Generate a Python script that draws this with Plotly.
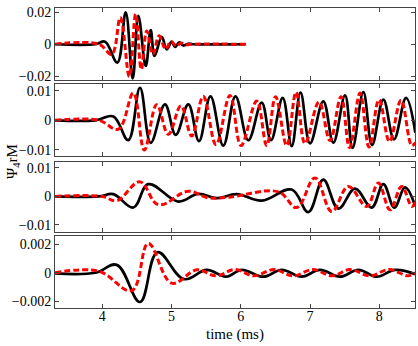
import plotly.graph_objects as go
from plotly.subplots import make_subplots

# panel 1 (top)
p1_black_t = [3.32, 3.90, 4.04, 4.217, 4.338, 4.439, 4.520, 4.627, 4.699, 4.754, 4.858, 4.930,
              5.002, 5.050, 5.112, 5.170, 5.240, 5.310, 6.07]
p1_black_v = [0, 0, 0.0016, -0.0116, 0.0200, -0.0215, 0.0179, -0.0137, 0.0089, -0.0074, 0.0046, -0.0032,
              0.0017, -0.0017, 0.0012, -0.0008, 0.0003, 0, 0]
p1_red_t = [3.32, 3.95, 4.136, 4.260, 4.390, 4.482, 4.563, 4.641, 4.732, 4.819, 4.916, 4.990,
            5.074, 5.136, 5.210, 5.300, 6.07]
p1_red_v = [0, 0, -0.0063, 0.0168, -0.0204, 0.0190, -0.0158, 0.0084, -0.0063, 0.0053, -0.0032, 0.0018,
            -0.0013, 0.0008, -0.0003, 0, 0]

# panel 2
p2_black_t = [3.32, 3.90, 4.159, 4.375, 4.544, 4.699, 4.905, 5.060, 5.242, 5.396, 5.562, 5.747,
              5.923, 6.108, 6.302, 6.436, 6.605, 6.735, 6.862, 6.999, 7.191, 7.336, 7.505, 7.613,
              7.769, 7.895, 8.058, 8.212, 8.386, 8.52]
p2_black_v = [0, 0, 0.0013, -0.0067, 0.0110, -0.0076, 0.0054, -0.0049, 0.0054, -0.0070, 0.0081, -0.0085,
              0.0081, -0.0067, 0.0060, -0.0067, 0.0076, -0.0087, 0.0094, -0.0078, 0.0064, -0.0075, 0.0084, -0.0093,
              0.0095, -0.0083, 0.0070, -0.0064, 0.0076, -0.0042]
p2_red_t = [3.32, 3.95, 4.231, 4.448, 4.606, 4.786, 4.953, 5.136, 5.291, 5.458, 5.642, 5.844,
            6.003, 6.230, 6.374, 6.501, 6.663, 6.797, 6.927, 7.129, 7.288, 7.447, 7.570, 7.721,
            7.851, 7.996, 8.147, 8.313, 8.468, 8.52]
p2_red_v = [0, 0, -0.0030, 0.0092, -0.0100, 0.0053, -0.0047, 0.0049, -0.0053, 0.0081, -0.0082, 0.0084,
            -0.0085, 0.0065, -0.0085, 0.0080, -0.0085, 0.0095, -0.0078, 0.0062, -0.0068, 0.0080, -0.0092, 0.0092,
            -0.0090, 0.0070, -0.0072, 0.0068, -0.0085, -0.0075]

# panel 3
p3_black_t = [3.32, 3.95, 4.159, 4.448, 4.664, 5.097, 5.386, 5.652, 5.941, 6.302, 6.735, 6.975,
              7.191, 7.408, 7.649, 7.890, 8.058, 8.217, 8.371, 8.52]
p3_black_v = [0, 0, 0.0008, -0.0039, 0.0043, -0.0018, 0.0009, -0.0006, 0.0008, -0.0015, 0.0024, -0.0055,
              0.0059, -0.0043, 0.0027, -0.0039, 0.0043, -0.0039, 0.0032, -0.0035]
p3_red_t = [3.32, 4.0, 4.208, 4.544, 4.809, 5.242, 5.531, 5.820, 6.541, 6.807, 7.071, 7.313,
            7.552, 7.818, 7.986, 8.155, 8.323, 8.468, 8.52]
p3_red_v = [0, 0, -0.0015, 0.0051, -0.0029, 0.0018, -0.0005, -0.0003, 0.0016, -0.0039, 0.0065, -0.0053,
            0.0035, -0.0035, 0.0047, -0.0047, 0.0035, -0.0035, -0.0020]

# panel 4 (bottom)
p4_black_t = [3.32, 3.90, 4.208, 4.544, 4.797, 5.180, 5.508, 5.786, 6.013, 6.325, 6.591, 6.879,
              7.144, 7.432, 7.697, 7.962, 8.227, 8.52]
p4_black_v = [-0.00005, 0, 0.00055, -0.00205, 0.00143, -0.00045, 0.0002, -0.00028, 0.0002, -0.00028, 0.0002, -0.00028,
              0.0002, -0.00028, 0.0002, -0.00028, 0.0002, -0.0001]
p4_red_t = [3.32, 3.95, 4.425, 4.664, 5.002, 5.368, 5.642, 5.916, 6.191, 6.480, 6.754, 7.043,
            7.317, 7.577, 7.866, 8.140, 8.415, 8.52]
p4_red_v = [0, 0.0001, -0.00125, 0.00205, -0.00073, 0.0002, -0.00022, 0.00022, -0.00022, 0.00022, -0.00022, 0.00022,
            -0.00022, 0.00022, -0.00022, 0.00022, -0.00022, 0]

panels = [
    (p1_black_t, p1_black_v, p1_red_t, p1_red_v),
    (p2_black_t, p2_black_v, p2_red_t, p2_red_v),
    (p3_black_t, p3_black_v, p3_red_t, p3_red_v),
    (p4_black_t, p4_black_v, p4_red_t, p4_red_v),
]
y_ticks = [[-0.02, 0, 0.02], [-0.01, 0, 0.01], [-0.01, 0, 0.01], [-0.002, 0, 0.002]]
y_ticktext = [["\u22120.02", "0", "0.02"], ["\u22120.01", "0", "0.01"],
              ["\u22120.01", "0", "0.01"], ["\u22120.002", "0", "0.002"]]
y_ranges = [[-0.0225, 0.0228], [-0.0120, 0.0123], [-0.0124, 0.0121], [-0.00247, 0.00257]]
domains = [[0.76, 1.0], [0.507, 0.747], [0.254, 0.487], [0.0, 0.24]]
x_ticks = [4, 5, 6, 7, 8]

serif = "Liberation Serif, Times New Roman, serif"

fig = make_subplots(rows=4, cols=1, shared_xaxes=True)

for i, (bt, bv, rt, rv) in enumerate(panels):
    row = i + 1
    fig.add_trace(
        go.Scatter(x=bt, y=bv, mode="lines", line=dict(color="black", width=2.7, shape="spline", smoothing=1.1),
                   showlegend=False),
        row=row, col=1,
    )
    fig.add_trace(
        go.Scatter(x=rt, y=rv, mode="lines",
                   line=dict(color="#ff0000", width=3, dash="6px,3px", shape="spline", smoothing=1.1),
                   showlegend=False),
        row=row, col=1,
    )
    fig.update_yaxes(
        domain=domains[i], range=y_ranges[i], tickvals=y_ticks[i], ticktext=y_ticktext[i],
        ticks="inside", ticklen=4, mirror="ticks", showline=True, linecolor="#444", linewidth=1,
        showgrid=False, zeroline=False, automargin=False, row=row, col=1,
    )
    fig.update_xaxes(
        range=[3.317, 8.515], tickvals=x_ticks, ticks="inside", ticklen=4, mirror="ticks",
        showline=True, linecolor="#444", linewidth=1, showgrid=False, zeroline=False,
        showticklabels=(row == 4), ticklabelstandoff=-5, automargin=False, row=row, col=1,
    )

# x title and y title as annotations so they sit where the original has them
fig.add_annotation(
    text="time (ms)", xref="paper", yref="paper", x=0.5, y=-0.087,
    xanchor="center", yanchor="middle", showarrow=False, font=dict(size=15, family=serif),
)
fig.add_annotation(
    text="\u03a8<sub>4</sub>rM", textangle=-90, xref="paper", yref="paper",
    x=-0.117, y=0.49, xanchor="center", yanchor="middle", showarrow=False,
    font=dict(size=15, family=serif),
)

fig.update_layout(
    width=418, height=346,
    margin=dict(l=55, r=3, t=8, b=38),
    plot_bgcolor="white", paper_bgcolor="white",
    font=dict(family=serif, size=14, color="black"),
)

# drop the browser's default 8px body margin so the figure fills the window
fig.write_html("out.html", config={"displayModeBar": False},
               post_script="document.body.style.margin = '0';")
